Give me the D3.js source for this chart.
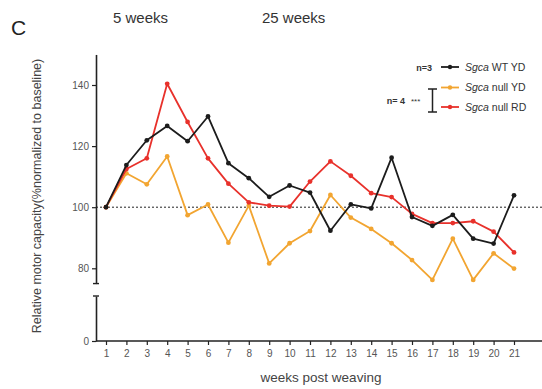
<!DOCTYPE html>
<html>
<head>
<meta charset="utf-8">
<script src="https://cdn.jsdelivr.net/npm/d3@7"></script>
<style>
  body { margin: 0; background: #fff; }
  svg { font-family: "Liberation Sans", Arial, sans-serif; }
</style>
</head>
<body>
<svg id="chart" width="542" height="389"></svg>
<script>
const weeks = d3.range(1, 22);
const wtYD = [100, 113.8, 121.9, 126.6, 121.6, 129.7, 114.4, 109.5, 103.4, 107.1, 104.8,
  92.3, 100.9, 99.6, 116.2, 96.8, 93.9, 97.5, 89.7, 88.1, 103.9];
const nullYD = [100, 111.1, 107.5, 116.6, 97.4, 100.9, 88.4, 100.5, 81.6, 88.2, 92.2,
  104.0, 96.6, 92.9, 88.2, 82.7, 76.2, 89.7, 76.2, 84.9, 79.9];
const nullRD = [100, 112.5, 116.0, 140.4, 127.9, 116.0, 107.7, 101.6, 100.5, 100.2, 108.4,
  115.0, 110.3, 104.6, 103.3, 97.8, 94.8, 94.8, 95.4, 92.0, 85.2];
const yTicks = [80, 100, 120, 140];

const series = [
  {name: 'WT YD', values: wtYD, color: '#1c1c1c'},
  {name: 'null YD', values: nullYD, color: '#f2a531'},
  {name: 'null RD', values: nullRD, color: '#e8312b'}
];

const svg = d3.select('#chart');

const x = d3.scaleLinear().domain([1, 21]).range([106, 514]);
const y = d3.scaleLinear().domain([80, 140]).range([268.3, 85]);
const yLow = d3.scaleLinear().domain([0, 15]).range([341, 296]);
const axisX = 96;

// headings
svg.append('text').attr('x', 11).attr('y', 35).attr('font-size', 21).attr('fill', '#222').text('C');
svg.append('text').attr('x', 113).attr('y', 23).attr('font-size', 15).attr('fill', '#333').text('5 weeks');
svg.append('text').attr('x', 262).attr('y', 23).attr('font-size', 15).attr('fill', '#333').text('25 weeks');

// upper y axis segment
const upper = svg.append('g').attr('transform', `translate(${axisX},0)`)
  .call(d3.axisLeft(y.copy().domain([75, 150]).range([y(75), y(150)]))
    .tickValues(yTicks).tickSize(4).tickSizeOuter(0));
upper.select('.domain').attr('stroke', '#222').attr('stroke-width', 1.6);

// lower y axis segment
const lower = svg.append('g').attr('transform', `translate(${axisX},0)`)
  .call(d3.axisLeft(yLow).tickValues([0]).tickSize(4).tickSizeOuter(0));
lower.select('.domain').attr('stroke', '#222').attr('stroke-width', 1.6);

[upper, lower].forEach(g => {
  g.selectAll('.tick line').attr('stroke', '#222').attr('stroke-width', 1.2);
  g.selectAll('.tick text').attr('font-size', 10).attr('fill', '#555');
});

// small caps at the break
svg.append('line').attr('x1', axisX - 3).attr('x2', axisX + 3)
  .attr('y1', y(75)).attr('y2', y(75)).attr('stroke', '#222').attr('stroke-width', 1.4);
svg.append('line').attr('x1', axisX - 3).attr('x2', axisX + 3)
  .attr('y1', yLow(15)).attr('y2', yLow(15)).attr('stroke', '#222').attr('stroke-width', 1.4);

// x axis
const xg = svg.append('g').attr('transform', `translate(0,${yLow(0)})`)
  .call(d3.axisBottom(x).tickValues(weeks).tickSize(4).tickSizeOuter(0).tickPadding(5));
xg.select('.domain').remove();
xg.append('line').attr('x1', axisX).attr('x2', 542).attr('stroke', '#222').attr('stroke-width', 1.6);
xg.selectAll('.tick line').attr('stroke', '#222').attr('stroke-width', 1.2);
xg.selectAll('.tick text').attr('font-size', 10).attr('fill', '#555');

// baseline dashed
svg.append('line').attr('x1', axisX).attr('x2', 542)
  .attr('y1', y(100)).attr('y2', y(100))
  .attr('stroke', '#222').attr('stroke-width', 1).attr('stroke-dasharray', '2,2');

// axis titles
svg.append('text')
  .attr('transform', 'translate(41,196) rotate(-90)')
  .attr('text-anchor', 'middle').attr('font-size', 12.5).attr('fill', '#444')
  .text('Relative motor capacity(%normalized to baseline)');
svg.append('text').attr('x', 321).attr('y', 382).attr('text-anchor', 'middle')
  .attr('font-size', 13.5).attr('fill', '#444').text('weeks post weaving');

// lines
const line = d3.line().x((d, i) => x(weeks[i])).y(d => y(d));
const order = [series[1], series[2], series[0]];
order.forEach(s => {
  const g = svg.append('g');
  g.append('path').datum(s.values).attr('d', line)
    .attr('fill', 'none').attr('stroke', s.color).attr('stroke-width', 1.8)
    .attr('stroke-linejoin', 'round');
  g.selectAll('circle').data(s.values).join('circle')
    .attr('cx', (d, i) => x(weeks[i])).attr('cy', d => y(d))
    .attr('r', 2.4).attr('fill', s.color);
});

// legend
const legRows = [67, 87.5, 107];
const leg = svg.append('g');
series.forEach((s, i) => {
  const ly = legRows[i];
  leg.append('line').attr('x1', 441).attr('x2', 459).attr('y1', ly).attr('y2', ly)
    .attr('stroke', s.color).attr('stroke-width', 1.8);
  leg.append('circle').attr('cx', 450).attr('cy', ly).attr('r', 2.2).attr('fill', s.color);
  const t = leg.append('text').attr('x', 465).attr('y', ly + 3.5).attr('font-size', 10.5).attr('fill', '#333');
  t.append('tspan').attr('font-style', 'italic').text('Sgca');
  t.append('tspan').text(' ' + s.name);
});
leg.append('text').attr('x', 432).attr('y', 70.5).attr('text-anchor', 'end')
  .attr('font-size', 9).attr('font-weight', 'bold').attr('fill', '#333').text('n=3');
leg.append('text').attr('x', 405).attr('y', 104).attr('text-anchor', 'end')
  .attr('font-size', 9).attr('font-weight', 'bold').attr('fill', '#333').text('n= 4');
leg.append('text').attr('x', 411).attr('y', 104)
  .attr('font-size', 8).attr('fill', '#333').text('***');
// bracket
leg.append('path')
  .attr('d', 'M428,89H437M432.5,89V112M428,112H437')
  .attr('fill', 'none').attr('stroke', '#222').attr('stroke-width', 1.5);
</script>
</body>
</html>
